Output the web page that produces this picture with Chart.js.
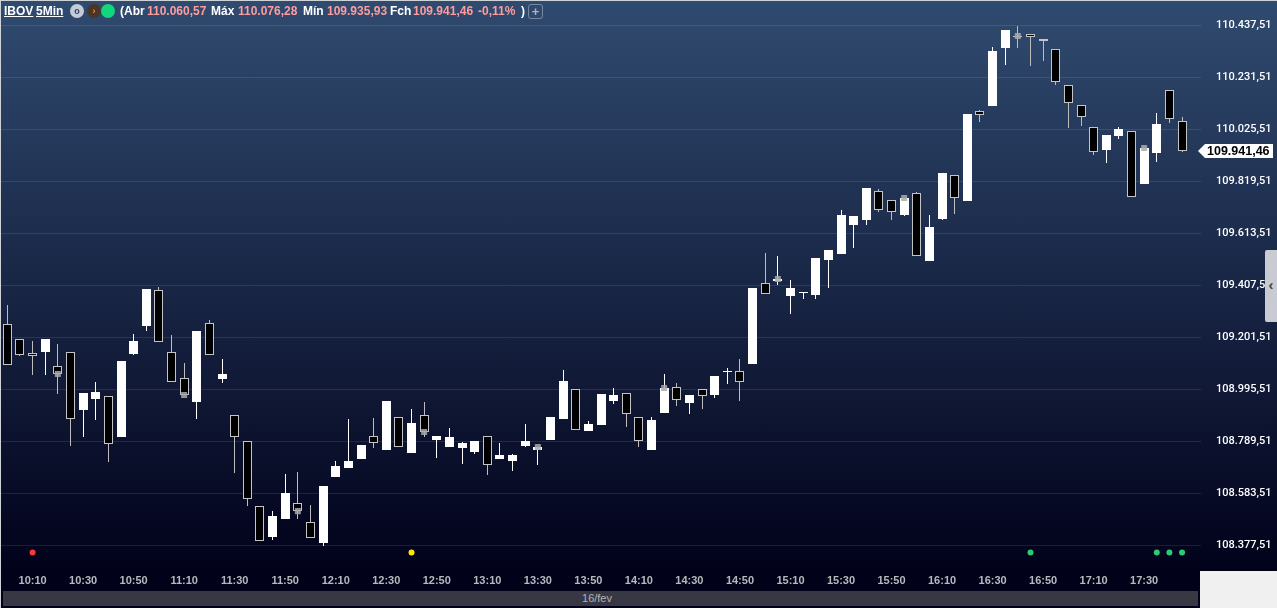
<!DOCTYPE html>
<html>
<head>
<meta charset="utf-8">
<title>IBOV 5Min</title>
<script src="https://cdn.jsdelivr.net/npm/chart.js@4"></script>
<style>
html, body { margin: 0; padding: 0; background: #f0f0f0; overflow: hidden; }
#page { position: relative; width: 1277px; height: 608px; overflow: hidden; background: #01011a; font-family: "Liberation Sans", sans-serif; }
#bg { position: absolute; left: 0; top: 0; width: 1277px; height: 571px; background: linear-gradient(#304b70, #01011a); }
#myChart { position: absolute; left: 0; top: 0; }
#corner { position: absolute; left: 1200px; top: 571px; width: 77px; height: 37px; background: #f0f0f0; }
#edgeTop { position: absolute; left: 0; top: 0; width: 1277px; height: 1px; background: #cfd3d8; }
#edgeLeft { position: absolute; left: 0; top: 0; width: 1px; height: 608px; background: #cfd3d8; }
#dateBar { position: absolute; left: 3px; top: 591px; width: 1195px; height: 15px; background: #383844; color: #b4b4b8; font-size: 11px; line-height: 15px; text-align: center; text-indent: -7px; }
#handle { position: absolute; left: 1265px; top: 250px; width: 12px; height: 72px; background: #c8ccd2; border-radius: 2px 0 0 2px; color: #444; font-size: 15px; line-height: 70px; text-align: center; font-weight: bold; }
.h { position: absolute; top: 4px; font-size: 12px; line-height: 14px; font-weight: bold; color: #fff; white-space: nowrap; }
.p { color: #ff9c9c; }
.u { text-decoration: underline; }
.c { position: absolute; top: 4px; width: 14px; height: 14px; border-radius: 50%; font-size: 9px; line-height: 14px; text-align: center; font-weight: bold; }
#plus { position: absolute; left: 528px; top: 4px; width: 13px; height: 13px; border: 1px solid #76879e; border-radius: 3px; color: #a9b5c4; font-size: 13px; line-height: 13px; text-align: center; font-weight: bold; }
</style>
</head>
<body>
<div id="page">
  <div id="bg"></div>
  <canvas id="myChart" width="1277" height="608"></canvas>
  <div id="corner"></div>
  <div id="edgeTop"></div>
  <div id="edgeLeft"></div>
  <span class="h u" style="left:4px">IBOV</span>
  <span class="h u" style="left:36px">5Min</span>
  <div class="c" style="left:70px;background:#c3ccd8;color:#2d4668">o</div>
  <div class="c" style="left:87px;background:#4a3526;color:#ff9020">›</div>
  <div class="c" style="left:101px;background:#12d67c"></div>
  <span class="h" style="left:120px">(Abr</span>
  <span class="h p" style="left:147px">110.060,57</span>
  <span class="h" style="left:211px">Máx</span>
  <span class="h p" style="left:238px">110.076,28</span>
  <span class="h" style="left:303px">Mín</span>
  <span class="h p" style="left:327px">109.935,93</span>
  <span class="h" style="left:390px">Fch</span>
  <span class="h p" style="left:413px">109.941,46</span>
  <span class="h p" style="left:478px">-0,11%</span>
  <span class="h" style="left:521px">)</span>
  <div id="plus">+</div>
  <div id="dateBar">16/fev</div>
  <div id="handle">‹</div>
</div>
<script>
const times = ['10:00','10:05','10:10','10:15','10:20','10:25','10:30','10:35','10:40','10:45','10:50','10:55',
    '11:00','11:05','11:10','11:15','11:20','11:25','11:30','11:35','11:40','11:45','11:50','11:55',
    '12:00','12:05','12:10','12:15','12:20','12:25','12:30','12:35','12:40','12:45','12:50','12:55',
    '13:00','13:05','13:10','13:15','13:20','13:25','13:30','13:35','13:40','13:45','13:50','13:55',
    '14:00','14:05','14:10','14:15','14:20','14:25','14:30','14:35','14:40','14:45','14:50','14:55',
    '15:00','15:05','15:10','15:15','15:20','15:25','15:30','15:35','15:40','15:45','15:50','15:55',
    '16:00','16:05','16:10','16:15','16:20','16:25','16:30','16:35','16:40','16:45','16:50','16:55',
    '17:00','17:05','17:10','17:15','17:20','17:25','17:30','17:35','17:40','17:45',''];

const opens = [109253,109194,109138,109144,109087,109142,108914,108957,108968,108807,109136,109247,
    109388,109142,109039,108945,109257,109037,108893,108790,108532,108410,108482,108544,
    108469,108387,108648,108684,108720,108810,108755,108885,108743,108893,108795,108767,
    108763,108747,108810,108720,108712,108771,108755,108795,108878,108996,108831,108854,
    108949,108980,108885,108755,108902,109004,108941,108996,108973,109064,109067,109096,
    109416,109425,109366,109377,109369,109508,109532,109647,109667,109780,109745,109687,
    109773,109504,109671,109844,109742,110098,110118,110348,110396,110403,110384,110343,
    110201,110121,110034,109944,110000,110018,109809,109932,110181,110060.57];
const highs = [109330,109194,109187,109195,109175,109142,108981,109025,108968,109108,109215,109393,
    109401,109211,109100,109227,109270,109116,108893,108790,108532,108513,108660,108668,
    108537,108613,108712,108878,108775,108882,108949,108885,108918,108945,108811,108842,
    108787,108791,108810,108783,108739,108858,108767,108886,109072,108996,108870,108977,
    109001,108980,108885,108886,109056,109021,108973,108996,109048,109080,109116,109397,
    109536,109524,109429,109381,109516,109548,109706,109683,109794,109790,109745,109754,
    109778,109687,109853,109844,110087,110103,110352,110420,110436,110403,110384,110343,
    110201,110121,110034,110004,110035,110018,109952,110091,110181,110076.28];
const lows = [109093,109128,109052,109052,108977,108771,108807,108874,108708,108807,109132,109227,
    109182,109024,108974,108878,109133,109021,108664,108533,108396,108399,108482,108482,
    108408,108375,108648,108684,108720,108763,108755,108768,108743,108807,108724,108767,
    108700,108739,108656,108720,108672,108767,108696,108795,108878,108836,108831,108854,
    108938,108846,108767,108755,108902,108930,108898,108918,108961,109017,108949,109096,
    109375,109409,109294,109354,109354,109397,109532,109556,109647,109698,109667,109683,
    109525,109504,109667,109690,109742,110055,110118,110281,110348,110277,110297,110202,
    110031,110039,109924,109893,109988,109759,109809,109897,110051,109935.93];
const closes = [109093,109133,109129,109195,109058,108879,108981,108985,108780,109108,109187,109393,
    109182,109024,108974,109227,109133,109056,108808,108562,108396,108494,108585,108515,
    108408,108613,108692,108712,108775,108784,108949,108768,108862,108828,108811,108807,
    108783,108791,108697,108735,108735,108791,108767,108886,109029,108836,108858,108977,
    108973,108899,108792,108874,109001,108955,108973,108970,109048,109068,109026,109397,
    109375,109433,109397,109381,109516,109548,109687,109683,109794,109708,109700,109754,
    109525,109639,109853,109755,110087,110084,110336,110420,110392,110393,110377,110215,
    110132,110076,109937,110004,110027,109759,109952,110047,110068,109941.46];

const yTicks = [110437.51,110231.51,110025.51,109819.51,109613.51,109407.51,109201.51,108995.51,108789.51,108583.51,108377.51];

// little grey squares sitting on some candles
const squareCandles = [4,14,23,33,42,52,61,71,80,90];
const squareValues = [109056,108973,108513,108827,108767,109001,109433,109754,110396,109952];

// signal dots under the candles
const dotCandles = [2,32,81,91,92,93];
const dotColors = ['#f23b3b','#ffe600','#2fc973','#2fc973','#2fc973','#2fc973'];
const dotValue = 108349;

const lastPrice = closes[closes.length - 1];

function brl(v) {
    return v.toLocaleString('pt-BR', { minimumFractionDigits: 2, maximumFractionDigits: 2 });
}

const isUp = opens.map((o, i) => closes[i] >= o);

// keep candles on whole pixels so the edges stay sharp
const snapBars = {
    id: 'snapBars',
    beforeDatasetsDraw(chart) {
        chart.data.datasets.forEach((ds, i) => {
            if (ds.type != 'bar') return;
            chart.getDatasetMeta(i).data.forEach(el => {
                el.x = Math.floor(el.x) + 0.5;
                let top = Math.round(Math.min(el.y, el.base));
                let bottom = Math.round(Math.max(el.y, el.base));
                if (bottom - top < 1) bottom = top + 1;
                el.y = top;
                el.base = bottom;
                el.height = bottom - top;
            });
        });
    }
};

// white tag with the last price on the axis
const lastTag = {
    id: 'lastTag',
    afterDraw(chart) {
        const c = chart.ctx;
        const y = Math.round(chart.scales.y.getPixelForValue(lastPrice));
        c.save();
        c.fillStyle = '#fff';
        c.beginPath();
        c.moveTo(1198, y);
        c.lineTo(1205, y - 7);
        c.lineTo(1273, y - 7);
        c.lineTo(1273, y + 7);
        c.lineTo(1205, y + 7);
        c.closePath();
        c.fill();
        c.fillStyle = '#000';
        c.font = 'bold 12.5px "Liberation Sans"';
        c.textBaseline = 'middle';
        c.fillText(brl(lastPrice), 1207, y + 0.5);
        c.restore();
    }
};

new Chart(document.getElementById('myChart'), {
    data: {
        labels: times,
        datasets: [
            {
                type: 'line',
                data: dotCandles.map(i => ({ x: times[i], y: dotValue })),
                showLine: false,
                pointRadius: 3,
                pointBorderWidth: 0,
                pointBackgroundColor: dotColors,
                order: 0
            },
            {
                type: 'line',
                data: squareCandles.map((i, n) => ({ x: times[i], y: squareValues[n] })),
                showLine: false,
                pointStyle: 'rect',
                pointRadius: 4.25,
                pointBorderWidth: 0,
                pointBackgroundColor: 'rgba(170,170,170,0.85)',
                order: 1
            },
            {
                type: 'bar',
                data: opens.map((o, i) => [o, closes[i]]),
                barThickness: 9,
                grouped: false,
                backgroundColor: isUp.map(u => u ? '#ffffff' : '#000000'),
                borderColor: '#c4c4c4',
                borderWidth: isUp.map(u => u ? 0 : 1),
                borderSkipped: false,
                inflateAmount: 0,
                order: 2
            },
            {
                type: 'bar',
                data: lows.map((l, i) => [l, highs[i]]),
                barThickness: 1,
                grouped: false,
                backgroundColor: isUp.map(u => u ? '#ffffff' : '#bdbdbd'),
                borderWidth: 0,
                inflateAmount: 0,
                order: 3
            }
        ]
    },
    options: {
        responsive: false,
        animation: false,
        devicePixelRatio: 1,
        layout: { autoPadding: false, padding: { left: 1, right: 0, top: 0, bottom: 0 } },
        plugins: { legend: { display: false }, tooltip: { enabled: false } },
        scales: {
            x: {
                grid: { display: false, drawTicks: false },
                border: { display: false },
                afterFit: function (scale) {
                    scale.height = 37;
                    scale.paddingLeft = 0;
                    scale.paddingRight = 0;
                },
                ticks: {
                    autoSkip: false,
                    maxRotation: 0,
                    padding: 3,
                    color: '#b9b9bd',
                    font: { family: 'Liberation Sans', size: 11, weight: 'bold' },
                    callback: function (val, idx) {
                        return idx % 4 == 2 ? this.getLabelForValue(val) : '';
                    }
                }
            },
            y: {
                position: 'right',
                min: 108275.7,
                max: 110538.6,
                grid: { color: 'rgba(255,255,255,0.1)', drawTicks: false },
                border: { display: false },
                afterFit: function (scale) {
                    scale.width = 76;
                    scale.paddingTop = 0;
                    scale.paddingBottom = 0;
                },
                afterBuildTicks: function (scale) {
                    scale.ticks = yTicks.map(v => ({ value: v }));
                },
                ticks: {
                    padding: 15,
                    color: '#ffffff',
                    font: { family: 'Roboto', size: 11, weight: '500' },
                    callback: v => brl(v)
                }
            }
        }
    },
    plugins: [snapBars, lastTag]
});
</script>
</body>
</html>
